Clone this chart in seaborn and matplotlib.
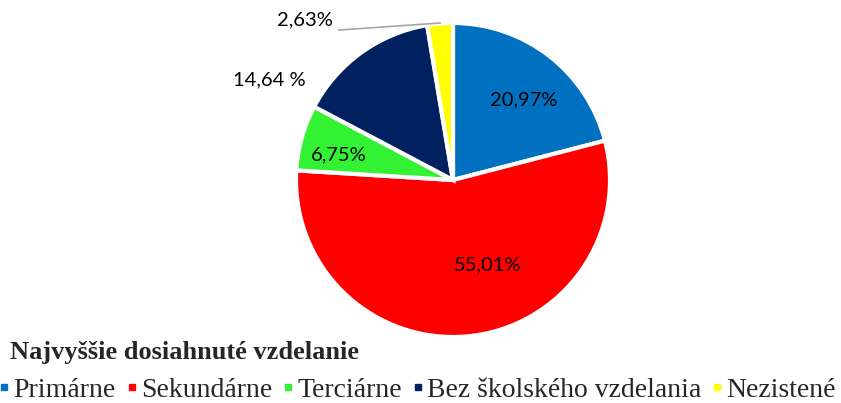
import matplotlib.pyplot as plt
import seaborn as sns
from matplotlib.lines import Line2D
from matplotlib import font_manager

# ── Data ───────────────────────────────────────────────────
categories = ["Primárne", "Sekundárne", "Terciárne",
              "Bez školského vzdelania", "Nezistené"]
shares = [20.97, 55.01, 6.75, 14.64, 2.63]
pct_labels = ["20,97%", "55,01%", "6,75%", "14,64 %", "2,63%"]
legend_title = "Najvyššie dosiahnuté vzdelanie"

colors = ["#0070C0", "#FF0000", "#33F233", "#002060", "#FFFF00"]
# label anchor points in pie units (radius = 1)
label_pos = [(0.45, 0.51), (0.22, -0.54), (-0.73, 0.16),
             (-1.17, 0.64), (-0.94, 1.02)]


def main():
    sns.set_style("white")
    W, H = 841, 403
    fig = plt.figure(figsize=(W / 100, H / 100), dpi=100)

    # pie area: centre (453, 180) px, radius 157 px
    cx, cy, r = 453, 180, 157
    ax = fig.add_axes([(cx - r) / W, (H - cy - r) / H, 2 * r / W, 2 * r / H])
    wedges, _ = ax.pie(shares, colors=colors, startangle=90, counterclock=False,
                       wedgeprops=dict(edgecolor="white", linewidth=3))
    ax.set_xlim(-1, 1)
    ax.set_ylim(-1, 1)
    ax.set_aspect("equal")
    ax.axis("off")

    for txt, (x, y) in zip(pct_labels, label_pos):
        ax.text(x, y, txt, ha="center", va="center", fontsize=14.5,
                family="Lato", color="black", clip_on=False)

    # leader line for the small slice
    ax.plot([-0.73, -0.08], [0.955, 1.0], color="#A6A6A6", lw=1.2, clip_on=False)

    # ── Legend ─────────────────────────────────────────────
    serif = ["Liberation Serif", "DejaVu Serif"]
    fig.text(10 / W, 1 - 353 / H, legend_title, ha="left", va="center",
             family=serif, fontsize=19, fontweight="bold")
    handles = [Line2D([], [], marker="s", linestyle="none", markersize=4.5,
                      markerfacecolor=c, markeredgecolor=c) for c in colors]
    fig.legend(handles, categories, loc="center left",
               bbox_to_anchor=(1 / W, 1 - 390 / H), ncol=5, frameon=False,
               prop=font_manager.FontProperties(family=serif, size=20),
               handlelength=0.25, handletextpad=0.2, columnspacing=0.45,
               borderpad=0, borderaxespad=0)
    fig.savefig("out.png", dpi=100)


if __name__ == "__main__":
    main()
